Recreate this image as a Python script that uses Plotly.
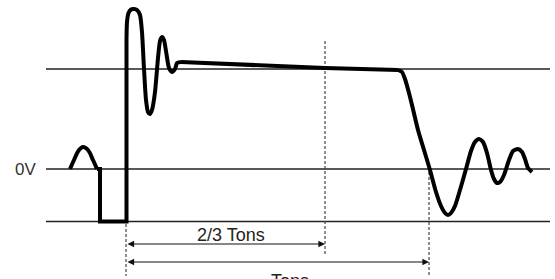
import plotly.graph_objects as go

# Reference levels (diagram units: pixel-like coordinates, y grows downward)
level_names = ["high", "zero", "low"]
level_y = [69, 169, 221.5]
level_x_start = 46
level_x_end = 550

# Waveform segments
bump_x = [70, 74, 79, 83, 88, 93, 97]
bump_y = [169, 160, 150, 147, 150, 160, 169]

step_x = [97, 100, 100, 126.5, 126.5]
step_y = [169, 169, 221.5, 221.5, 40]

ring_x = [126.5, 127, 128.5, 131, 134, 137, 140, 142, 144, 146, 148, 150, 152, 155, 158, 160, 162, 164, 166, 169, 172, 175, 177, 181]
ring_y = [40, 22, 13, 9.5, 9, 10, 15, 32, 69, 100, 112, 114, 110, 92, 58, 41, 37, 40, 51, 68, 72, 69, 63, 62]

flat_x = [181, 325, 398]
flat_y = [62, 68, 70]

fall_x = [398, 402, 405, 409, 412, 418, 424, 430, 436, 441, 445, 448, 451, 455, 460, 466, 471, 475, 479, 483, 487, 491, 494, 497, 500, 504, 509, 513, 518, 522, 525, 528, 532]
fall_y = [70, 72, 79, 93, 105, 130, 150, 170, 192, 206, 213, 215, 213, 206, 190, 169, 151, 142, 139, 142, 153, 170, 179, 183, 182, 175, 160, 151, 149, 152, 159, 168, 172]

# Dashed time markers
marker_x = [126, 325, 429]
marker_y0 = [224, 41, 172]
marker_y1 = [276, 256, 276]

# Time-span arrows
arrow_labels = ["2/3 Tons", "Tons"]
arrow_start = [126, 126]
arrow_end = [325, 429]
arrow_y = [244, 262]
label_x = [231, 290]
label_y = [235, 268.5]
label_anchor = ["middle", "top"]

fig = go.Figure()

for y in level_y:
    fig.add_trace(go.Scatter(x=[level_x_start, level_x_end], y=[y, y], mode="lines",
                             line=dict(color="#222222", width=1.3), hoverinfo="skip"))

for xs, ys in zip(marker_x, zip(marker_y0, marker_y1)):
    fig.add_trace(go.Scatter(x=[xs, xs], y=list(ys), mode="lines",
                             line=dict(color="#444444", width=1.2, dash="3px,2px"), hoverinfo="skip"))

wave_style = dict(color="#000000", width=4)
fig.add_trace(go.Scatter(x=bump_x, y=bump_y, mode="lines", line=dict(shape="spline", smoothing=1, **wave_style)))
fig.add_trace(go.Scatter(x=step_x, y=step_y, mode="lines", line=dict(**wave_style)))
fig.add_trace(go.Scatter(x=ring_x, y=ring_y, mode="lines", line=dict(shape="spline", smoothing=0.6, **wave_style)))
fig.add_trace(go.Scatter(x=flat_x, y=flat_y, mode="lines", line=dict(**wave_style)))
fig.add_trace(go.Scatter(x=fall_x, y=fall_y, mode="lines", line=dict(shape="spline", smoothing=0.6, **wave_style)))

annotations = []
for x0, x1, y in zip(arrow_start, arrow_end, arrow_y):
    annotations.append(dict(x=x1, y=y, ax=x0, ay=y, xref="x", yref="y", axref="x", ayref="y",
                            text="", showarrow=True, arrowhead=2, arrowside="end+start",
                            arrowsize=1.1, arrowwidth=1.2, arrowcolor="#111111"))
for t, x, y, anc in zip(arrow_labels, label_x, label_y, label_anchor):
    annotations.append(dict(x=x, y=y, xref="x", yref="y", text=t, showarrow=False, yanchor=anc,
                            font=dict(family="Liberation Sans, Arial", size=18, color="#222222")))
annotations.append(dict(x=25, y=169, xref="x", yref="y", text="0V", showarrow=False,
                        font=dict(family="Liberation Sans, Arial", size=17, color="#333333")))

fig.update_layout(
    width=555, height=279,
    margin=dict(l=0, r=0, t=0, b=0),
    paper_bgcolor="white", plot_bgcolor="white",
    showlegend=False,
    xaxis=dict(range=[0, 555], visible=False, fixedrange=True),
    yaxis=dict(range=[279, 0], visible=False, fixedrange=True),
    annotations=annotations,
)

fig.write_html("out.html", config={"displayModeBar": False},
               post_script="document.body.style.margin='0';document.body.style.overflow='hidden';")
